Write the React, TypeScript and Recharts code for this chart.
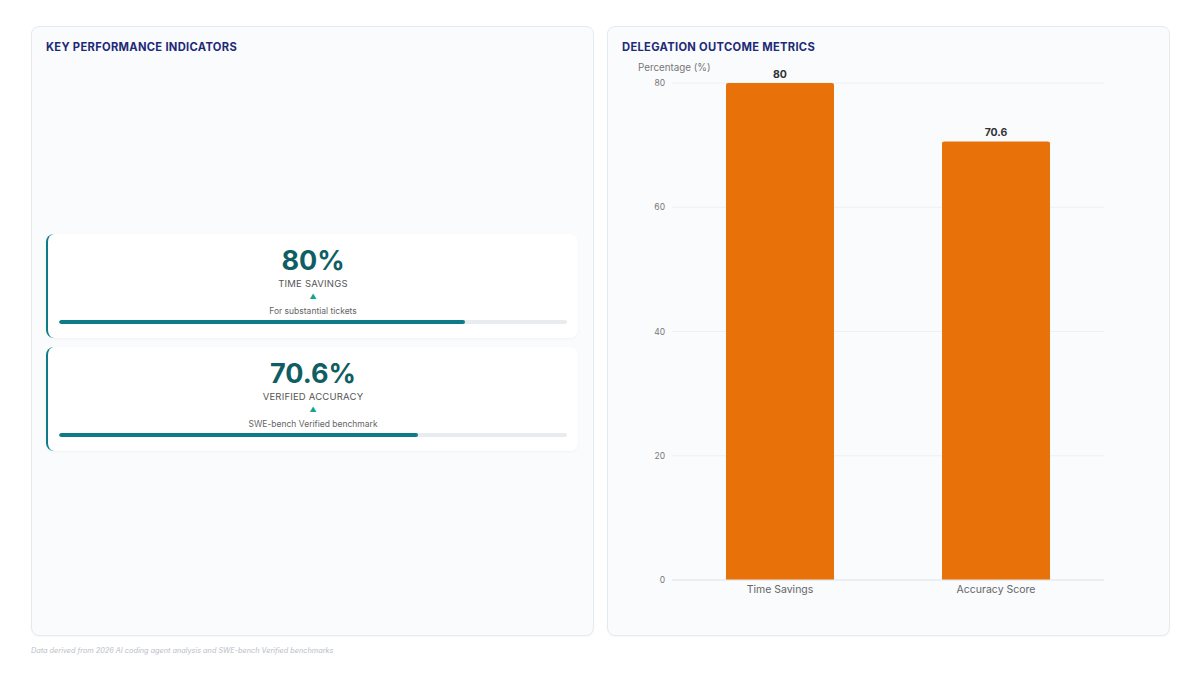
import React from "react";
import { BarChart, Bar, XAxis, YAxis, CartesianGrid, LabelList } from "recharts";

const categories = ["Time Savings", "Accuracy Score"];
const percentages = [80, 70.6];
const yTicks = [0, 20, 40, 60, 80];

const kpiValues = ["80%", "70.6%"];
const kpiLabels = ["TIME SAVINGS", "VERIFIED ACCURACY"];
const kpiNotes = ["For substantial tickets", "SWE-bench Verified benchmark"];
const kpiProgress = [80, 70.6];

const chartData = categories.map((name, i) => ({ name, value: percentages[i] }));

const FONT = "Inter, 'Noto Sans', sans-serif";

const panelStyle: React.CSSProperties = {
  position: "absolute",
  top: 26,
  width: 563,
  height: 610,
  background: "#f9fbfd",
  border: "1px solid #e6e9ee",
  borderRadius: 8,
  boxSizing: "border-box",
  boxShadow: "0 1px 2px rgba(0,0,0,0.03)",
};

const titleStyle: React.CSSProperties = {
  position: "absolute",
  top: 13,
  left: 14,
  fontSize: 11.2,
  fontWeight: 700,
  color: "#1e2a78",
  letterSpacing: 0.3,
};

function KpiCard({ idx, top }: { idx: number; top: number }) {
  return (
    <div
      style={{
        position: "absolute",
        left: 14,
        top,
        width: 532,
        height: 104,
        background: "#ffffff",
        borderLeft: "2px solid #0e7c86",
        borderRadius: 8,
        boxSizing: "border-box",
        boxShadow: "0 1px 3px rgba(0,0,0,0.04)",
      }}
    >
      <div
        style={{
          position: "absolute",
          top: 10,
          left: 0,
          right: 0,
          textAlign: "center",
          fontSize: 27,
          fontWeight: 700,
          color: "#0f5e63",
          lineHeight: "34px",
        }}
      >
        {kpiValues[idx]}
      </div>
      <div
        style={{
          position: "absolute",
          top: 44,
          left: 0,
          right: 0,
          textAlign: "center",
          fontSize: 9.5,
          color: "#555",
          letterSpacing: 0.2,
          lineHeight: "12px",
        }}
      >
        {kpiLabels[idx]}
      </div>
      <div
        style={{
          position: "absolute",
          top: 58,
          left: 0,
          right: 0,
          textAlign: "center",
          fontSize: 7,
          color: "#14a38b",
          lineHeight: "10px",
        }}
      >
        ▲
      </div>
      <div
        style={{
          position: "absolute",
          top: 72,
          left: 0,
          right: 0,
          textAlign: "center",
          fontSize: 8.5,
          color: "#666",
          lineHeight: "11px",
        }}
      >
        {kpiNotes[idx]}
      </div>
      <div
        style={{
          position: "absolute",
          top: 86,
          left: 11,
          width: 508,
          height: 4,
          borderRadius: 2,
          background: "#e9ecef",
          overflow: "hidden",
        }}
      >
        <div
          style={{
            width: `${kpiProgress[idx]}%`,
            height: "100%",
            background: "#0e7c86",
            borderRadius: 2,
          }}
        />
      </div>
    </div>
  );
}

export default function App() {
  return (
    <div
      style={{
        position: "absolute",
        left: 0,
        top: 0,
        width: 1200,
        height: 675,
        background: "#ffffff",
        fontFamily: FONT,
        overflow: "hidden",
      }}
    >
      <div style={{ ...panelStyle, left: 31 }}>
        <div style={titleStyle}>KEY PERFORMANCE INDICATORS</div>
        <KpiCard idx={0} top={207} />
        <KpiCard idx={1} top={320} />
      </div>

      <div style={{ ...panelStyle, left: 607 }}>
        <div style={titleStyle}>DELEGATION OUTCOME METRICS</div>
        <div
          style={{
            position: "absolute",
            top: 35,
            left: 30,
            fontSize: 9.8,
            color: "#777",
          }}
        >
          Percentage (%)
        </div>
      </div>

      <div style={{ position: "absolute", left: 607, top: 60 }}>
        <BarChart
          width={562}
          height={560}
          data={chartData}
          margin={{ top: 23, right: 65, bottom: 10, left: 0 }}
          barCategoryGap="25%"
        >
          <CartesianGrid vertical={false} stroke="#eef1f4" />
          <XAxis
            dataKey="name"
            height={30}
            tickLine={false}
            axisLine={{ stroke: "#e3e6ea" }}
            tickSize={0}
            tickMargin={6}
            tick={{ fontSize: 10.5, fill: "#666", fontFamily: FONT }}
          />
          <YAxis
            width={65}
            domain={[0, 80]}
            ticks={yTicks}
            axisLine={false}
            tickLine={false}
            tickSize={0}
            tickMargin={7}
            tick={{ fontSize: 8.5, fill: "#777", fontFamily: FONT }}
          />
          <Bar dataKey="value" fill="#e8710a" radius={[2, 2, 0, 0]} isAnimationActive={false}>
            <LabelList
              dataKey="value"
              position="top"
              offset={5}
              style={{ fontSize: 10.5, fontWeight: 700, fill: "#333", fontFamily: FONT }}
            />
          </Bar>
        </BarChart>
      </div>

      <div
        style={{
          position: "absolute",
          left: 31,
          top: 646,
          fontSize: 7.3,
          fontStyle: "italic",
          color: "#b9bec6",
        }}
      >
        Data derived from 2026 AI coding agent analysis and SWE-bench Verified benchmarks
      </div>
    </div>
  );
}
